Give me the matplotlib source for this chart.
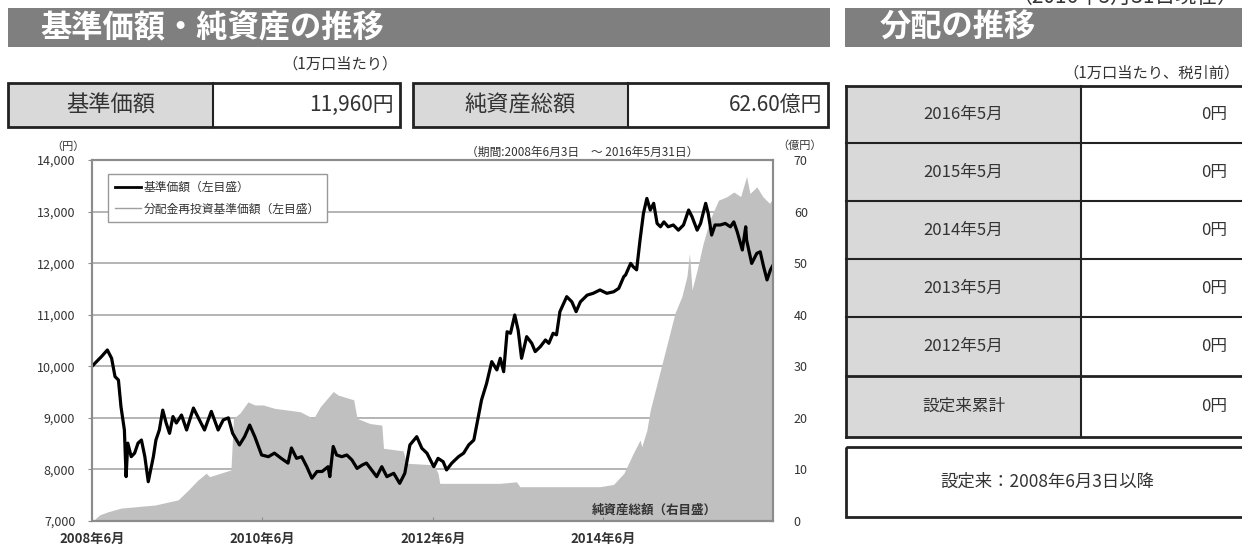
import matplotlib
matplotlib.use('Agg')
import matplotlib.pyplot as plt
from matplotlib.patches import Rectangle
from matplotlib.lines import Line2D

plt.rcParams['font.family'] = ['Noto Sans CJK JP', 'DejaVu Sans']

W, H = 1242, 548

# ---------------- data ----------------
# time in decimal years (2008.42 = 2008-06-03, 2016.41 = 2016-05-31)
nav_t = [2008.42, 2008.53, 2008.60, 2008.65, 2008.69, 2008.73, 2008.76, 2008.80, 2008.82, 2008.84,
         2008.88, 2008.92, 2008.96, 2009.00, 2009.04, 2009.08, 2009.14, 2009.17, 2009.21, 2009.25,
         2009.29, 2009.33, 2009.37, 2009.41, 2009.47, 2009.53, 2009.61, 2009.66, 2009.74, 2009.82,
         2009.90, 2009.96, 2010.02, 2010.07, 2010.15, 2010.21, 2010.27, 2010.33, 2010.41, 2010.49,
         2010.56, 2010.64, 2010.72, 2010.76, 2010.82, 2010.88, 2010.94, 2011.00, 2011.06, 2011.12,
         2011.19, 2011.21, 2011.25, 2011.29, 2011.35, 2011.41, 2011.47, 2011.53, 2011.59, 2011.64,
         2011.70, 2011.76, 2011.82, 2011.88, 2011.96, 2012.03, 2012.09, 2012.15, 2012.23, 2012.29,
         2012.35, 2012.43, 2012.48, 2012.54, 2012.58, 2012.64, 2012.72, 2012.78, 2012.84, 2012.90,
         2012.93, 2012.99, 2013.05, 2013.11, 2013.17, 2013.21, 2013.25, 2013.29, 2013.33, 2013.38,
         2013.42, 2013.46, 2013.52, 2013.58, 2013.62, 2013.68, 2013.74, 2013.78, 2013.83, 2013.87,
         2013.91, 2013.99, 2014.05, 2014.10, 2014.15, 2014.23, 2014.30, 2014.38, 2014.46, 2014.54,
         2014.60, 2014.66, 2014.68, 2014.74, 2014.77, 2014.81, 2014.85, 2014.89, 2014.93, 2014.97,
         2015.01, 2015.05, 2015.09, 2015.13, 2015.18, 2015.24, 2015.30, 2015.36, 2015.42, 2015.46,
         2015.52, 2015.56, 2015.62, 2015.65, 2015.69, 2015.73, 2015.79, 2015.85, 2015.91, 2015.95,
         2015.99, 2016.05, 2016.09, 2016.10, 2016.16, 2016.22, 2016.26, 2016.30, 2016.34, 2016.38,
         2016.41]
nav_v = [10000, 10186, 10316, 10155, 9800, 9734, 9216, 8765, 7860, 8510,
         8247, 8316, 8510, 8570, 8247, 7762, 8247, 8570, 8765, 9150,
         8900, 8700, 9025, 8900, 9055, 8765, 9190, 9025, 8765, 9125,
         8765, 8960, 9000, 8700, 8475, 8635, 8860, 8635, 8280, 8247,
         8316, 8215, 8123, 8415, 8215, 8247, 8053, 7830, 7960, 7960,
         8053, 7860, 8445, 8280, 8247, 8280, 8183, 8020, 8085, 8123,
         7990, 7860, 8053, 7860, 7925, 7730, 7925, 8475, 8635, 8410,
         8315, 8053, 8215, 8150, 7990, 8120, 8247, 8315, 8475, 8570,
         8830, 9345, 9670, 10090, 9930, 10155, 9895, 10670, 10640, 10995,
         10700, 10155, 10575, 10445, 10285, 10380, 10510, 10445, 10640, 10610,
         11060, 11350, 11250, 11060, 11250, 11380, 11415, 11480, 11415, 11445,
         11510, 11740, 11770, 11995, 11930, 11870, 12450, 12965, 13255, 13030,
         13160, 12770, 12705, 12800, 12705, 12740, 12640, 12740, 13030, 12900,
         12640, 12770, 13160, 12965, 12545, 12740, 12740, 12770, 12705, 12800,
         12610, 12255, 12705, 12450, 11995, 12190, 12220, 11930, 11675, 11870,
         11960]
# no distributions were paid, so the reinvested NAV equals the NAV
reinvested_v = list(nav_v)

assets_t = [2008.42, 2008.45, 2008.51, 2008.61, 2008.76, 2009.16, 2009.43, 2009.55, 2009.66, 2009.76,
            2009.80, 2010.05, 2010.08, 2010.16, 2010.25, 2010.33, 2010.43, 2010.56, 2010.72, 2010.86,
            2010.98, 2011.02, 2011.10, 2011.25, 2011.31, 2011.49, 2011.53, 2011.68, 2011.82, 2011.84,
            2012.07, 2012.11, 2012.43, 2012.48, 2012.50, 2013.21, 2013.40, 2013.44, 2014.38, 2014.54,
            2014.66, 2014.77, 2014.85, 2014.87, 2014.93, 2014.97, 2015.01, 2015.07, 2015.16, 2015.26,
            2015.34, 2015.40, 2015.43, 2015.46, 2015.52, 2015.59, 2015.67, 2015.77, 2015.87, 2015.95,
            2016.03, 2016.10, 2016.14, 2016.22, 2016.29, 2016.37, 2016.41]
assets_v = [0.0, 0.3, 1.2, 1.8, 2.5, 3.1, 4.1, 6.0, 7.9, 9.25,
            8.6, 9.9, 19.9, 21.0, 23.1, 22.5, 22.5, 21.85, 21.5, 21.2,
            20.2, 19.9, 22.2, 25.1, 24.4, 23.5, 19.9, 18.9, 18.6, 14.1,
            13.6, 11.2, 10.9, 9.25, 7.3, 7.3, 7.6, 6.65, 6.65, 7.1,
            9.25, 13.1, 15.7, 14.4, 17.6, 21.5, 24.1, 28.0, 33.8, 40.3,
            43.5, 47.4, 51.9, 44.8, 48.7, 53.8, 58.4, 62.2, 62.9, 63.8,
            62.9, 66.8, 63.5, 64.8, 62.9, 61.6, 62.6]

left_ticks = [7000, 8000, 9000, 10000, 11000, 12000, 13000, 14000]
left_tick_labels = ['7,000', '8,000', '9,000', '10,000', '11,000', '12,000', '13,000', '14,000']
right_ticks = [0, 10, 20, 30, 40, 50, 60, 70]
x_ticks = [2008.42, 2010.42, 2012.42, 2014.42]
x_tick_labels = ['2008年6月', '2010年6月', '2012年6月', '2014年6月']

summary_labels = ['基準価額', '純資産総額']
summary_values = ['11,960円', '62.60億円']

dist_labels = ['2016年5月', '2015年5月', '2014年5月', '2013年5月', '2012年5月', '設定来累計']
dist_values = ['0円', '0円', '0円', '0円', '0円', '0円']

# ---------------- figure ----------------
fig = plt.figure(figsize=(W / 100, H / 100), dpi=100)
bg = fig.add_axes([0, 0, 1, 1])
bg.set_xlim(0, W)
bg.set_ylim(H, 0)
bg.axis('off')
bg.set_zorder(-1)

TXT = '#333333'
BORDER = '#222222'
GRAYCELL = '#d9d9d9'
BAR = '#7f7f7f'

# title bars
bg.add_patch(Rectangle((8, 8), 822, 39, fc=BAR, ec='none'))
bg.text(40, 28, '基準価額・純資産の推移', color='white', fontsize=22.5, fontweight='bold', va='center')
bg.add_patch(Rectangle((845, 8), 410, 39, fc=BAR, ec='none'))
bg.text(880, 28, '分配の推移', color='white', fontsize=22.5, fontweight='bold', va='center')
bg.text(1125, -3, '（2016年5月31日現在）', color=TXT, fontsize=15, ha='center', va='center')

bg.text(340, 64, '（1万口当たり）', color=TXT, fontsize=11, ha='center', va='center')
bg.text(1240, 73, '（1万口当たり、税引前）', color=TXT, fontsize=11, ha='right', va='center')

# summary boxes
boxes = [(8, 213, 400), (413, 628, 828)]
y0, y1 = 83, 127
for (x0, xs, x1), lab, val in zip(boxes, summary_labels, summary_values):
    bg.add_patch(Rectangle((x0, y0), xs - x0, y1 - y0, fc=GRAYCELL, ec='none'))
    bg.add_patch(Rectangle((xs, y0), x1 - xs, y1 - y0, fc='white', ec='none'))
    bg.add_patch(Rectangle((x0, y0), x1 - x0, y1 - y0, fill=False, ec=BORDER, lw=2))
    bg.plot([xs, xs], [y0, y1], color=BORDER, lw=1.5)
    bg.text((x0 + xs) / 2, (y0 + y1) / 2, lab, color=TXT, fontsize=16, ha='center', va='center')
    bg.text(x1 - 6, (y0 + y1) / 2, val, color=TXT, fontsize=15, ha='right', va='center')

# distribution table
tx0, tsplit, tx1 = 846, 1081, 1262
rows_y = [86, 143, 201, 259, 317, 376, 437]
for i, (lab, val) in enumerate(zip(dist_labels, dist_values)):
    ya, yb = rows_y[i], rows_y[i + 1]
    bg.add_patch(Rectangle((tx0, ya), tsplit - tx0, yb - ya, fc=GRAYCELL, ec='none'))
    bg.add_patch(Rectangle((tsplit, ya), tx1 - tsplit, yb - ya, fc='white', ec='none'))
    bg.text((tx0 + tsplit) / 2, (ya + yb) / 2, lab, color=TXT, fontsize=12, ha='center', va='center')
    bg.text(1227, (ya + yb) / 2, val, color=TXT, fontsize=12, ha='right', va='center')
for k, yy in enumerate(rows_y):
    bg.plot([tx0, tx1], [yy, yy], color=BORDER, lw=2 if k in (0, 5, 6) else 1.5)
bg.plot([tx0, tx0], [rows_y[0], rows_y[-1]], color=BORDER, lw=2)
bg.plot([tsplit, tsplit], [rows_y[0], rows_y[-1]], color=BORDER, lw=1.5)

bg.add_patch(Rectangle((846, 447), 420, 70, fill=False, ec=BORDER, lw=2))
bg.text(1047, 482, '設定来：2008年6月3日以降', color=TXT, fontsize=12.5, ha='center', va='center')

# ---------------- chart ----------------
AX_L, AX_R, AX_T, AX_B = 92, 773, 160, 521
ax = fig.add_axes([AX_L / W, (H - AX_B) / H, (AX_R - AX_L) / W, (AX_B - AX_T) / H])
ax2 = ax.twinx()

ax2.fill_between(assets_t, assets_v, 0, color='#c0c0c0', lw=0, zorder=1)
ax2.set_ylim(0, 70)
ax2.set_yticks(right_ticks)
ax2.yaxis.grid(True, color='#a8a8a8', lw=1.2)
ax2.set_axisbelow(True)

ax.plot(nav_t, reinvested_v, color='#a0a0a0', lw=1)
ax.plot(nav_t, nav_v, color='black', lw=2.3)
ax.set_xlim(2008.42, 2016.41)
ax.set_ylim(7000, 14000)
ax.set_yticks(left_ticks)
ax.set_yticklabels(left_tick_labels)
ax.set_xticks(x_ticks)
ax.set_xticklabels(x_tick_labels, fontweight='bold')
ax.set_zorder(ax2.get_zorder() + 1)
ax.patch.set_visible(False)
ax2.patch.set_visible(True)
ax2.patch.set_facecolor('white')

for a in (ax, ax2):
    for s in a.spines.values():
        s.set_color('#8c8c8c')
        s.set_linewidth(1.5)

ax.tick_params(axis='y', direction='out', length=3, color='#8c8c8c', labelsize=9, labelcolor=TXT, pad=9)
ax.tick_params(axis='x', direction='in', length=3, color='#8c8c8c', labelsize=9.5, labelcolor=TXT, pad=8)
ax2.tick_params(axis='y', direction='in', length=3, color='#8c8c8c', labelsize=9, labelcolor=TXT, pad=15)

handles = [Line2D([], [], color='black', lw=2), Line2D([], [], color='#a0a0a0', lw=1)]
leg = ax.legend(handles, ['基準価額（左目盛）', '分配金再投資基準価額（左目盛）'],
                loc='upper left', bbox_to_anchor=((108 - AX_L) / (AX_R - AX_L), (AX_B - 174) / (AX_B - AX_T)),
                borderaxespad=0, fancybox=False, edgecolor='#999999', fontsize=8.5,
                handlelength=2.2, handletextpad=0.2, borderpad=0.6, labelspacing=0.7, framealpha=1)
leg.get_frame().set_linewidth(1)
for t in leg.get_texts():
    t.set_color(TXT)


def ftext(x, y, s, **kw):
    fig.text(x / W, 1 - y / H, s, **kw)


ftext(68, 147, '（円）', fontsize=8, color=TXT, ha='center', va='center')
ftext(800, 146, '（億円）', fontsize=8, color=TXT, ha='center', va='center')
ftext(582, 152, '（期間:2008年6月3日　～ 2016年5月31日）', fontsize=8.5, color=TXT, ha='center', va='center')
ftext(654, 510, '純資産総額（右目盛）', fontsize=9, color=TXT, fontweight='bold', ha='center', va='center')

fig.savefig('out.png', dpi=100)
